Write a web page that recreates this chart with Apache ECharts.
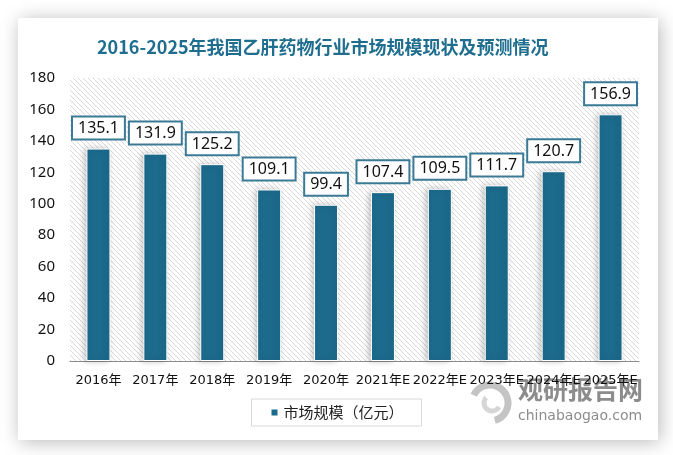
<!DOCTYPE html>
<html><head><meta charset="utf-8">
<script src="https://cdn.jsdelivr.net/npm/echarts@6/dist/echarts.min.js"></script>
<style>html,body{margin:0;padding:0;background:#fff;}#c{width:673px;height:455px;}</style>
</head><body><div id="c"></div>
<script>
var categories = ['2016年','2017年','2018年','2019年','2020年','2021年E','2022年E','2023年E','2024年E','2025年E'];
var values = [135.1,131.9,125.2,109.1,99.4,107.4,109.5,111.7,120.7,156.9];
var seriesName = '市场规模（亿元）';
var titleText = '2016-2025年我国乙肝药物行业市场规模现状及预测情况';

var T = 5;
var pc = document.createElement('canvas');
pc.width = T; pc.height = T;
var g = pc.getContext('2d');
g.fillStyle = '#ffffff'; g.fillRect(0,0,T,T);
g.strokeStyle = '#d9d9d9'; g.lineWidth = 1;
g.beginPath();
g.moveTo(-1,-1); g.lineTo(T+1,T+1);
g.moveTo(-1,T-1); g.lineTo(1,T+1);
g.moveTo(T-1,-1); g.lineTo(T+1,1);
g.stroke();

var chart = echarts.init(document.getElementById('c'));
var mainColor = '#1c6a8c';
chart.setOption({
  animation:false,
  backgroundColor:'#ffffff',
  graphic:[
    {type:'rect', z:-10, shape:{x:18,y:18,width:640,height:422}, style:{fill:'#fff', shadowBlur:18, shadowColor:'rgba(0,0,0,0.28)', shadowOffsetX:2, shadowOffsetY:2}},
    {type:'arc', z:-5, shape:{cx:490,cy:403,r:18,startAngle:-2.7,endAngle:1.3}, style:{stroke:'#c4c4c4', lineWidth:7, fill:null}},
    {type:'arc', z:-5, shape:{cx:492,cy:403,r:8,startAngle:0.5,endAngle:3.9}, style:{stroke:'#d6d6d6', lineWidth:5, fill:null}},
    {type:'text', z:-5, left:518, top:377, style:{text:'观研报告网', font:'bold 25px "Noto Sans CJK SC"', fill:'#8c8c8c'}},
    {type:'text', z:-5, left:518, top:409, style:{text:'chinabaogao.com', font:'14px "DejaVu Sans"', fill:'#8c8c8c'}}
  ],
  title:{text:titleText, left:92, top:33, textStyle:{color:'#1f6e8f', fontSize:18, fontWeight:'bold', fontFamily:'"Noto Sans CJK SC"'}},
  legend:{data:[seriesName], left:'center', top:399, icon:'rect', itemWidth:8, itemHeight:8, borderColor:'#d9d9d9', borderWidth:1, padding:[6,18], textStyle:{fontSize:15, color:'#222', fontFamily:'"Noto Sans CJK SC"'}},
  grid:{left:70, right:34, top:78, bottom:94, show:true, borderWidth:0, backgroundColor:{image:pc, repeat:'repeat'}},
  xAxis:{type:'category', data:categories, axisLine:{lineStyle:{color:'#8c8c8c', width:1}}, axisTick:{show:false}, axisLabel:{fontSize:13, color:'#111', margin:13, interval:0, fontFamily:'"DejaVu Sans", "Noto Sans CJK SC"'}},
  yAxis:{type:'value', min:0, max:180, interval:20, axisLine:{show:false}, axisTick:{show:false}, splitLine:{show:false}, axisLabel:{fontSize:15, color:'#111', margin:15, fontFamily:'"Noto Sans", sans-serif'}},
  series:[{name:seriesName, type:'bar', data:values, barWidth:24, itemStyle:{color:mainColor, borderColor:'#fff', borderWidth:1, shadowBlur:6, shadowColor:'rgba(0,0,0,0.22)', shadowOffsetX:-2},
    label:{show:true, position:'top', distance:10, fontSize:16, color:'#111', backgroundColor:'#fff', borderColor:'#3b7a96', borderWidth:2, padding:[3,5,2,5], fontFamily:'"Noto Sans", sans-serif'}}]
});
</script></body></html>
